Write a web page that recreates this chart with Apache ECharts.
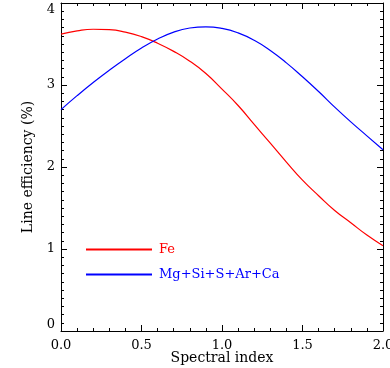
<!DOCTYPE html>
<html>
<head>
<meta charset="utf-8">
<script src="https://cdn.jsdelivr.net/npm/echarts@6/dist/echarts.min.js"></script>
<style>
html,body{margin:0;padding:0;background:#fff;}
#chart{width:390px;height:368px;}
</style>
</head>
<body>
<div id="chart"></div>
<script>
var xValues = [0.0,0.1,0.2,0.3,0.4,0.5,0.6,0.7,0.8,0.9,1.0,1.1,1.2,1.3,1.4,1.5,1.6,1.7,1.8,1.9,2.0];
var feValues = [3.62,3.66,3.68,3.675,3.645,3.59,3.51,3.41,3.29,3.14,2.95,2.75,2.52,2.29,2.06,1.84,1.65,1.47,1.32,1.17,1.04];
var mgValues = [2.70,2.87,3.03,3.18,3.32,3.45,3.56,3.645,3.695,3.71,3.69,3.635,3.545,3.42,3.27,3.10,2.92,2.73,2.55,2.38,2.21];
var seriesNames = ['Fe','Mg+Si+S+Ar+Ca'];
var seriesColors = ['#ff0000','#0000ff'];
var xTitle = 'Spectral index';
var yTitle = 'Line efficiency (%)';

function pairs(xs, ys){ return xs.map(function(x,i){ return [x, ys[i]]; }); }

var font = 'DejaVu Serif';
var axisCommon = {
  axisLine:{show:true, onZero:false, lineStyle:{color:'#000', width:1}},
  axisTick:{show:true, inside:true, length:6, lineStyle:{color:'#000', width:1}},
  splitLine:{show:false}
};
function merge(a,b){ var o={}; for(var k in a) o[k]=a[k]; for(var k2 in b) o[k2]=b[k2]; return o; }

var chart = echarts.init(document.getElementById('chart'), null, {renderer:'canvas'});
chart.setOption({
  backgroundColor:'#fff',
  animation:false,
  grid:{left:61, right:7, top:3, bottom:37, containLabel:false, outerBoundsMode:'none'},
  legend:{
    orient:'vertical', left:85, top:243, padding:0, itemWidth:66, itemHeight:14, itemGap:12,
    itemStyle:{opacity:0, borderWidth:0},
    data:[
      {name:seriesNames[0], textStyle:{color:seriesColors[0]}},
      {name:seriesNames[1], textStyle:{color:seriesColors[1]}}
    ],
    textStyle:{fontFamily:font, fontSize:13, padding:[0,0,0,2]}
  },
  xAxis:[
    merge(axisCommon,{type:'value', position:'bottom', min:0, max:2, interval:0.5,
      minorTick:{show:true, splitNumber:5, length:3, lineStyle:{color:'#000'}},
      name:xTitle, nameLocation:'middle', nameGap:20, nameMoveOverlap:false,
      nameTextStyle:{fontFamily:font, fontSize:14, color:'#000'},
      axisLabel:{margin:8, fontFamily:font, fontSize:13, color:'#000', formatter:function(v){return v.toFixed(1);}}}),
    merge(axisCommon,{type:'value', position:'top', min:0, max:2, interval:0.5,
      minorTick:{show:true, splitNumber:5, length:3, lineStyle:{color:'#000'}},
      axisLabel:{show:false}})
  ],
  yAxis:[
    merge(axisCommon,{type:'value', position:'left', min:0, max:4, interval:1,
      minorTick:{show:true, splitNumber:10, length:3, lineStyle:{color:'#000'}},
      name:yTitle, nameLocation:'middle', nameGap:26, nameMoveOverlap:false,
      nameTextStyle:{fontFamily:font, fontSize:14, color:'#000'},
      axisLabel:{margin:6, fontFamily:font, fontSize:13, color:'#000',
        verticalAlignMinLabel:'bottom', verticalAlignMaxLabel:'top'}}),
    merge(axisCommon,{type:'value', position:'right', min:0, max:4, interval:1,
      minorTick:{show:true, splitNumber:10, length:3, lineStyle:{color:'#000'}},
      axisLabel:{show:false}})
  ],
  series:[
    {name:seriesNames[0], type:'line', data:pairs(xValues, feValues), smooth:true, symbol:'none',
      lineStyle:{color:seriesColors[0], width:1.2}, itemStyle:{color:seriesColors[0]}},
    {name:seriesNames[1], type:'line', data:pairs(xValues, mgValues), smooth:true, symbol:'none',
      lineStyle:{color:seriesColors[1], width:1.2}, itemStyle:{color:seriesColors[1]}}
  ]
});
</script>
</body>
</html>
